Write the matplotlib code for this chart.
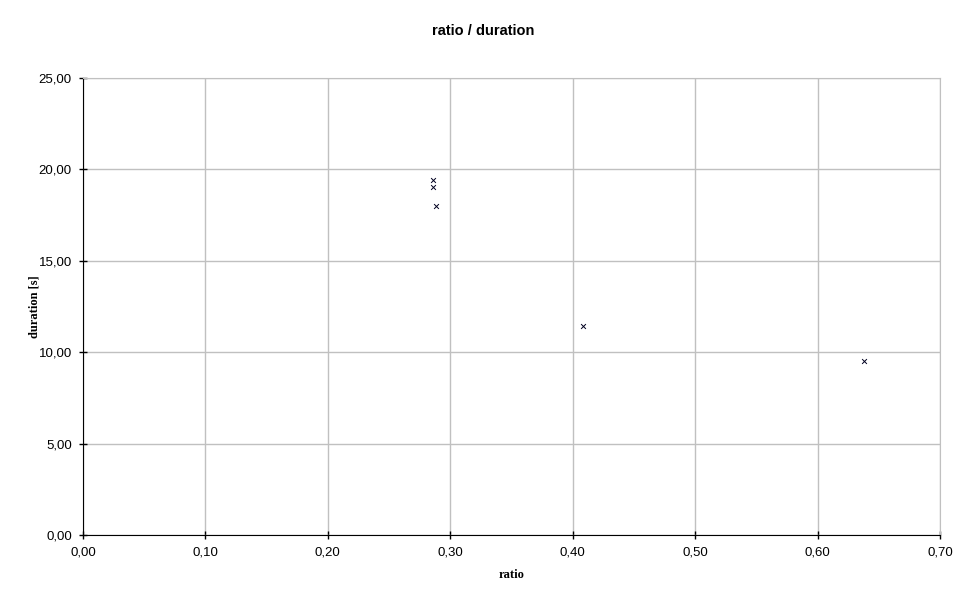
import matplotlib
matplotlib.use("Agg")
import matplotlib.pyplot as plt
from matplotlib.ticker import FuncFormatter, MultipleLocator

ratio = [0.286, 0.286, 0.288, 0.408, 0.638]
duration = [19.4, 19.05, 18.0, 11.45, 9.5]


def comma(v, pos, nd=2):
    return f"{v:.{nd}f}".replace(".", ",")


fig = plt.figure(figsize=(9.7, 6.03), dpi=100)
ax = fig.add_axes([83 / 970, 1 - 535 / 603, 857 / 970, 457 / 603])

ax.scatter(ratio, duration, marker="x", s=12, color="#000020", linewidths=0.7, zorder=3)

ax.set_xlim(0, 0.7)
ax.set_ylim(0, 25)
ax.xaxis.set_major_locator(MultipleLocator(0.1))
ax.yaxis.set_major_locator(MultipleLocator(5))
ax.xaxis.set_major_formatter(FuncFormatter(comma))
ax.yaxis.set_major_formatter(FuncFormatter(comma))
ax.grid(True, color="#c0c0c0", linewidth=1)
ax.set_axisbelow(True)

for s in ("top", "right"):
    ax.spines[s].set_color("#c0c0c0")
for s in ("left", "bottom"):
    ax.spines[s].set_color("black")
ax.tick_params(direction="inout", length=6, width=1, labelsize=9.5,
               labelfontfamily="Liberation Sans", pad=5)

fig.text(0.4985, 1 - 31 / 603, "ratio / duration", fontsize=10.5, fontweight="bold",
         family="Liberation Sans", ha="center", va="center")
ax.set_xlabel("ratio", fontsize=9, fontweight="bold", family="Liberation Serif", labelpad=8)
ax.set_ylabel("duration [s]", fontsize=9, fontweight="bold", family="Liberation Serif", labelpad=-1)

fig.savefig("out.png", dpi=100)
